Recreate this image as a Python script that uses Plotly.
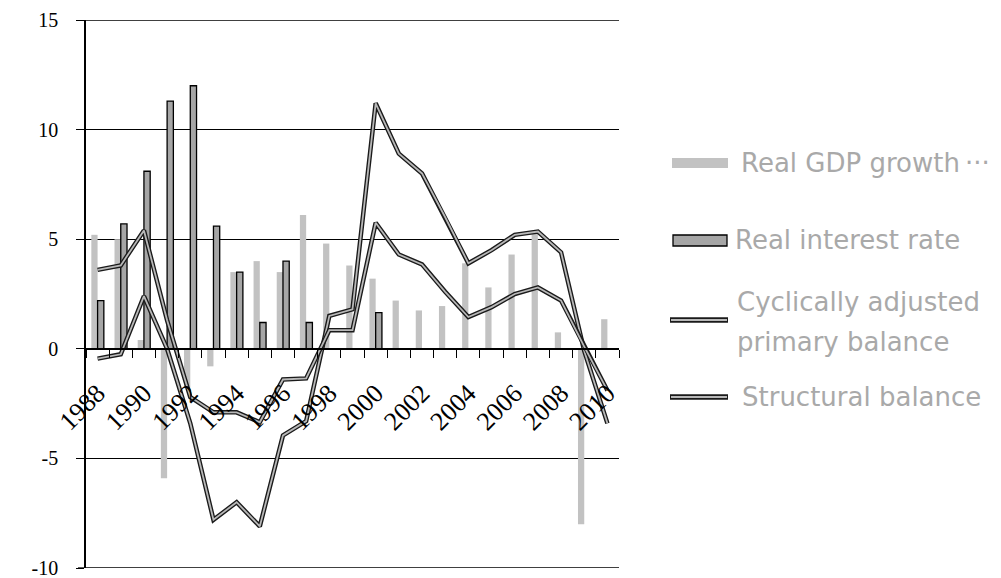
import plotly.graph_objects as go

# ---------------- data ----------------
years = list(range(1988, 2011))
year_labels = [str(y) for y in range(1988, 2011, 2)]
label_years = list(range(1988, 2011, 2))

gdp_growth = [5.2, 5.0, 0.4, -5.9, -1.8, -0.8, 3.5, 4.0, 3.5, 6.1, 4.8, 3.8,
              3.2, 2.2, 1.75, 1.95, 3.9, 2.8, 4.3, 5.3, 0.75, -8.0, 1.35]
real_interest = [2.2, 5.7, 8.1, 11.3, 12.0, 5.6, 3.5, 1.2, 4.0, 1.2, None, None,
                 1.65, None, None, None, None, None, None, None, None, None, None]
cyc_adj_primary = [-0.45, -0.25, 2.4, 0.0, -3.4, -7.8, -7.0, -8.1, -3.95, -3.3, 1.5, 1.8,
                   11.2, 8.9, 8.0, 6.0, 3.9, 4.5, 5.2, 5.35, 4.4, -0.1, -3.4]
structural = [3.6, 3.8, 5.4, 1.3, -2.2, -2.9, -2.9, -3.35, -1.4, -1.35, 0.85, 0.85,
              5.75, 4.3, 3.85, 2.6, 1.45, 1.9, 2.5, 2.8, 2.2, 0.1, -1.9]

y_ticks = [15, 10, 5, 0, -5, -10]
y_tick_text = ["15", "10", "5", "0", "-5", "-10"]
y_min, y_max = -10, 15

series_names = ["Real GDP growth", "Real interest rate",
                "Cyclically adjusted primary balance", "Structural balance"]

# ---------------- style ----------------
GDP_FILL = "#c2c2c2"
INT_FILL = "#a6a6a6"
LINE_DARK = "#1a1a1a"
LINE_LIGHT = "#b8b8b8"
LEGEND_TEXT = "#a9a9a9"

W, H = 1001, 578
L, R, T, B = 86, 382, 20, 10

fig = go.Figure()

fig.add_trace(go.Bar(x=years, y=gdp_growth, name=series_names[0],
                     marker=dict(color=GDP_FILL, line=dict(width=0)), showlegend=False))
fig.add_trace(go.Bar(x=years, y=real_interest, name=series_names[1],
                     marker=dict(color=INT_FILL, line=dict(color="black", width=1.3)),
                     showlegend=False))

for name, vals in [(series_names[2], cyc_adj_primary), (series_names[3], structural)]:
    fig.add_trace(go.Scatter(x=years, y=vals, mode="lines", name=name,
                             line=dict(color=LINE_DARK, width=4.5), showlegend=False,
                             hoverinfo="skip"))
    fig.add_trace(go.Scatter(x=years, y=vals, mode="lines", name=name,
                             line=dict(color=LINE_LIGHT, width=1.8), showlegend=False))

# ---------------- manual legend (pixel -> paper helpers) ----------------
pw, ph = W - L - R, H - T - B


def px(x):
    return (x - L) / pw


def py(y):
    return (H - B - y) / ph


shapes = []
# top and bottom gridlines (at the ends of the y range)
for yv in (y_min, y_max):
    shapes.append(dict(type="line", xref="paper", yref="y", x0=0, x1=1, y0=yv, y1=yv,
                       line=dict(color="black", width=1.3), layer="below"))
    shapes.append(dict(type="line", xref="paper", yref="y", x0=px(78), x1=0, y0=yv, y1=yv,
                       line=dict(color="black", width=1.3), layer="below"))

shapes.append(dict(type="rect", xref="paper", yref="paper",
                   x0=px(672), x1=px(728), y0=py(168), y1=py(158),
                   fillcolor=GDP_FILL, line=dict(width=0)))
shapes.append(dict(type="rect", xref="paper", yref="paper",
                   x0=px(673), x1=px(727), y0=py(246), y1=py(235),
                   fillcolor=INT_FILL, line=dict(color="black", width=1.3)))
for yy in (320, 397):
    shapes.append(dict(type="line", xref="paper", yref="paper",
                       x0=px(670), x1=px(728), y0=py(yy), y1=py(yy),
                       line=dict(color=LINE_DARK, width=5.5)))
    shapes.append(dict(type="line", xref="paper", yref="paper",
                       x0=px(671), x1=px(727), y0=py(yy), y1=py(yy),
                       line=dict(color=LINE_LIGHT, width=2)))

legend_font = dict(family="DejaVu Sans", size=26, color=LEGEND_TEXT)
annotations = []
for text, x, y in [(series_names[0] + "\u2009···", 739, 163),
                   (series_names[1], 733, 240),
                   ("Cyclically adjusted", 735, 302),
                   ("primary balance", 735, 342),
                   (series_names[3], 740, 397)]:
    annotations.append(dict(text=text, xref="paper", yref="paper", x=px(x), y=py(y),
                            xanchor="left", yanchor="middle", showarrow=False,
                            font=legend_font))

fig.update_layout(
    width=W, height=H,
    margin=dict(l=L, r=R, t=T, b=B, pad=0, autoexpand=False),
    paper_bgcolor="white", plot_bgcolor="white",
    barmode="group", bargap=0.46, bargroupgap=0,
    shapes=shapes, annotations=annotations,
    showlegend=False,
)

fig.update_yaxes(
    range=[y_min, y_max], tickvals=y_ticks, ticktext=y_tick_text,
    automargin=False,
    showgrid=True, gridcolor="black", gridwidth=1.3,
    zeroline=False,
    showline=True, linecolor="black", linewidth=1.5,
    ticks="outside", ticklen=8, tickcolor="black", tickwidth=1.3,
    ticklabelstandoff=14, ticklabeloverflow="allow",
    tickfont=dict(family="Liberation Serif", size=20, color="black"),
)

fig.update_xaxes(
    type="linear", range=[1987.5, 2010.5],
    anchor="free", position=0.4, automargin=False,
    showline=True, linecolor="black", linewidth=1.5,
    showgrid=False, zeroline=False,
    tickmode="array", tickvals=label_years, ticktext=year_labels,
    ticks="", tickangle=-45, ticklabelstandoff=18,
    tickfont=dict(family="Liberation Serif", size=26, color="black"),
    minor=dict(tickmode="array", tickvals=[y - 0.5 for y in years] + [years[-1] + 0.5],
               ticks="outside", ticklen=8, tickcolor="black", tickwidth=1.3,
               showgrid=False),
)

fig.write_html("out.html", config={"displayModeBar": False},
               post_script="document.body.style.margin='0px';")
